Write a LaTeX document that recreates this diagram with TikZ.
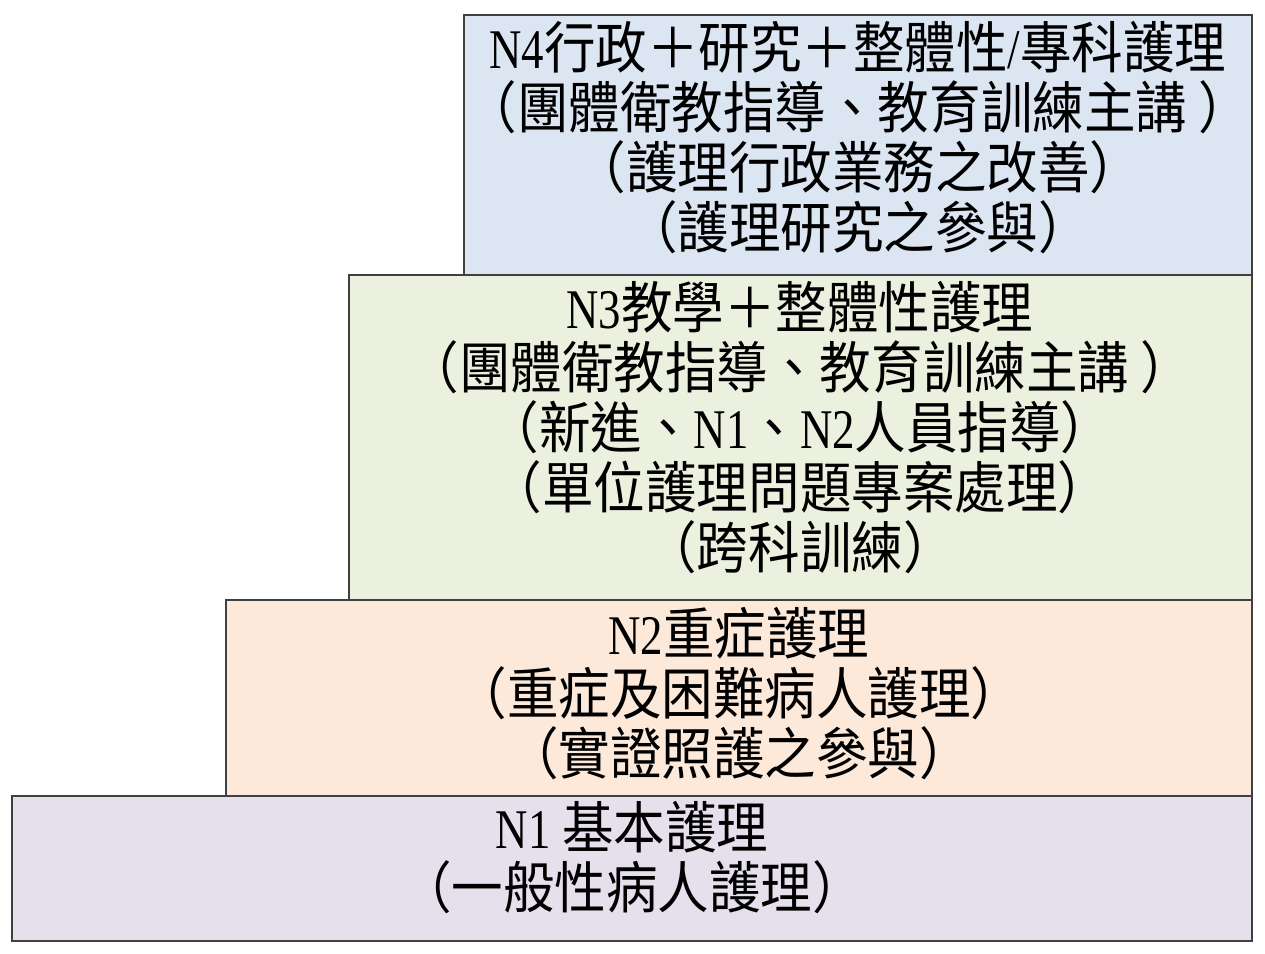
\documentclass[tikz,border=0pt]{standalone}
\usepackage{fontspec}
\setmainfont{Liberation Serif}[FakeStretch=0.8]
\newfontfamily\cjk{Noto Sans CJK TC}[FakeStretch=0.92]
\newcommand\lt[1]{{\rmfamily #1}}
\definecolor{cfour}{HTML}{DCE6F2}
\definecolor{cthree}{HTML}{EBF1DE}
\definecolor{ctwo}{HTML}{FDE9D9}
\definecolor{cone}{HTML}{E5E0EC}
\begin{document}
\begin{tikzpicture}[x=1pt,y=-1pt,
  box/.style={draw=black!75, line width=1.5pt, anchor=north west, inner sep=0pt, outer sep=0pt},
  txt/.style={align=center, font=\cjk\fontsize{56}{60}\selectfont, inner sep=0pt, text=black}]
\useasboundingbox (0,0) rectangle (1265,953);
\fill[white] (0,0) rectangle (1265,953);
\node[box, fill=cfour, minimum width=788pt, minimum height=260pt] (n4) at (464,15) {};
\node[box, fill=cthree, minimum width=903pt, minimum height=325pt] (n3) at (349,275) {};
\node[box, fill=ctwo, minimum width=1026pt, minimum height=196pt] (n2) at (226,600) {};
\node[box, fill=cone, minimum width=1240pt, minimum height=145pt] (n1) at (12,796) {};
\node[txt] (t4) at (858,138) {\lt{N4}行政＋研究＋整體性\lt{/}專科護理\\（團體衛教指導、教育訓練主講 ）\\（護理行政業務之改善）\\（護理研究之參與）};
\node[txt] (t3) at (800,428) {\lt{N3}教學＋整體性護理\\（團體衛教指導、教育訓練主講 ）\\（新進、\lt{N1}、\lt{N2}人員指導）\\（單位護理問題專案處理）\\（跨科訓練）};
\node[txt] (t2) at (739,694) {\lt{N2}重症護理\\（重症及困難病人護理）\\（實證照護之參與）};
\node[txt] (t1) at (632,858) {\lt{N1} 基本護理\\（一般性病人護理）};
\end{tikzpicture}
\end{document}
